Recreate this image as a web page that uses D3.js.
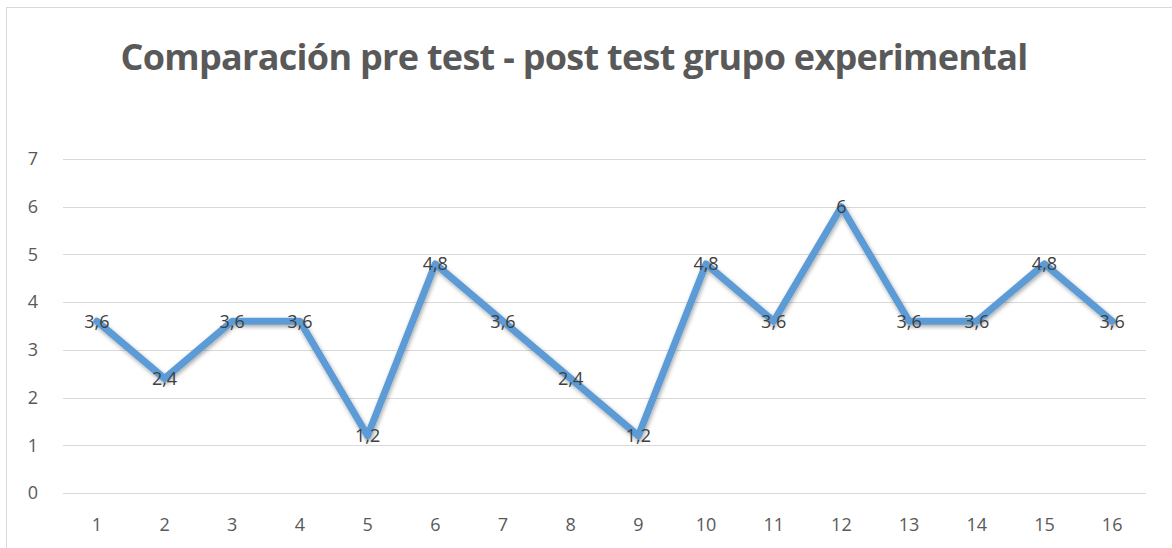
<!DOCTYPE html>
<meta charset="utf-8">
<html>
<head>
<style>
  body { margin: 0; background: #fff; }
  text { font-family: "Open Sans", "Liberation Sans", sans-serif; }
</style>
</head>
<body>
<script src="https://d3js.org/d3.v7.min.js"></script>
<div id="chart"></div>
<script>
    // data
    var categories = ["1","2","3","4","5","6","7","8","9","10","11","12","13","14","15","16"];
    var values = [3.6, 2.4, 3.6, 3.6, 1.2, 4.8, 3.6, 2.4, 1.2, 4.8, 3.6, 6, 3.6, 3.6, 4.8, 3.6];
    var yTicks = [0, 1, 2, 3, 4, 5, 6, 7];
    var title = "Comparación pre test - post test grupo experimental";

    var W = 1172, H = 548;
    var margin = {top: 159, right: 26, bottom: 55, left: 63},
        width = W - margin.left - margin.right,
        height = H - margin.top - margin.bottom;

    var root = d3.select("#chart").append("svg")
        .attr("width", W).attr("height", H);

    // outer chart border
    root.append("rect")
        .attr("x", 6.5).attr("y", 7.5)
        .attr("width", W + 10).attr("height", H + 10)
        .attr("fill", "none").attr("stroke", "#d9d9d9");

    // shadow for the line
    var f = root.append("defs").append("filter").attr("id", "sh")
        .attr("x", "-10%").attr("y", "-10%").attr("width", "120%").attr("height", "130%");
    f.append("feDropShadow").attr("dx", 1).attr("dy", 2).attr("stdDeviation", 2)
        .attr("flood-color", "#000").attr("flood-opacity", 0.35);

    // title, squeezed a bit so it has the width of the original
    var t = root.append("text")
        .attr("x", 574).attr("y", 70)
        .attr("text-anchor", "middle")
        .style("font-size", "36px").style("font-weight", "bold")
        .style("fill", "#595959")
        .text(title);
    var tw = t.node().getComputedTextLength();
    t.style("letter-spacing", ((907 - tw) / title.length) + "px");

    var svg = root.append("g")
        .attr("transform", "translate(" + margin.left + "," + margin.top + ")");

    var x = d3.scaleBand().domain(categories).range([0, width]);
    var y = d3.scaleLinear().domain([0, 7]).range([height, 0]);

    // gridlines
    svg.selectAll(".grid").data(yTicks).enter().append("line")
        .attr("x1", 0).attr("x2", width)
        .attr("y1", function(d) { return Math.round(y(d)) + 0.5; })
        .attr("y2", function(d) { return Math.round(y(d)) + 0.5; })
        .attr("stroke", "#d9d9d9").attr("stroke-width", 1.2);

    // y labels
    svg.selectAll(".ylab").data(yTicks).enter().append("text")
        .attr("x", -25).attr("y", function(d) { return y(d); })
        .attr("dy", "0.35em").attr("text-anchor", "end")
        .style("font-size", "18px").style("fill", "#595959")
        .text(function(d) { return d; });

    // x labels
    svg.selectAll(".xlab").data(categories).enter().append("text")
        .attr("x", function(d) { return x(d) + x.bandwidth() / 2; })
        .attr("y", height + 32)
        .attr("dy", "0.35em").attr("text-anchor", "middle")
        .style("font-size", "18px").style("fill", "#595959")
        .text(function(d) { return d; });

    var line = d3.line()
        .x(function(d, i) { return x(categories[i]) + x.bandwidth() / 2; })
        .y(function(d) { return y(d); });

    svg.append("path").datum(values)
        .attr("d", line)
        .attr("fill", "none").attr("stroke", "#5b9bd5")
        .attr("stroke-width", 7).attr("stroke-linejoin", "round").attr("stroke-linecap", "round")
        .attr("filter", "url(#sh)");

    // value labels, centred on the points
    svg.selectAll(".vlab").data(values).enter().append("text")
        .attr("x", function(d, i) { return x(categories[i]) + x.bandwidth() / 2; })
        .attr("y", function(d) { return y(d); })
        .attr("dy", "0.35em").attr("text-anchor", "middle")
        .style("font-size", "18px").style("fill", "#404040")
        .text(function(d) { return String(d).replace(".", ","); });
</script>
</body>
</html>
